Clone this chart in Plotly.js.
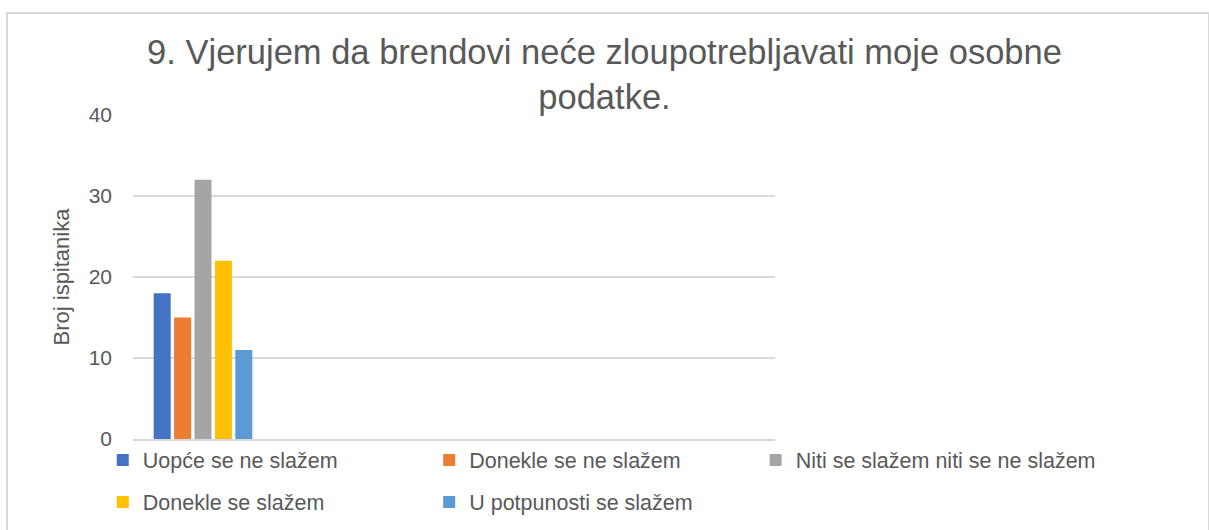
<!DOCTYPE html>
<html>
<head>
<meta charset="utf-8">
<script src="https://cdn.plot.ly/plotly-3.0.1.min.js"></script>
<style>
  html, body { margin: 0; padding: 0; background: #ffffff; overflow: hidden; }
  #frame { position: absolute; left: 6px; top: 12px; width: 1200px; height: 540px;
           border-left: 2px solid #d9d9d9; border-top: 2px solid #d9d9d9; border-right: 2px solid #d9d9d9; }
  #chart { position: absolute; left: 0; top: 0; width: 1209px; height: 530px; }
</style>
</head>
<body>
<div id="frame"></div>
<div id="chart"></div>
<script>
const titleText = "9. Vjerujem da brendovi neće zloupotrebljavati moje osobne<br>podatke.";
const yAxisTitle = "Broj ispitanika";
const question = ["P9"];
const responses = ["Uopće se ne slažem", "Donekle se ne slažem", "Niti se slažem niti se ne slažem", "Donekle se slažem", "U potpunosti se slažem"];
const counts = [18, 15, 32, 22, 11];
const colors = ["#4472C4", "#ED7D31", "#A5A5A5", "#FFC000", "#5B9BD5"];
const yTicks = [0, 10, 20, 30, 40];

const font = "Liberation Sans, Arial, sans-serif";
const legendIds = ["legend", "legend2", "legend3", "legend4", "legend5"];
// legend slot positions (container fractions): three per row, two rows
const legendX = [0.085, 0.355, 0.625, 0.085, 0.355];
const legendY = [0.132, 0.132, 0.132, 0.053, 0.053];

const traces = responses.map((r, i) => ({
  type: "bar",
  x: question,
  y: [counts[i]],
  name: r,
  marker: { color: colors[i] },
  legend: legendIds[i],
  hoverinfo: "y+name"
}));

const layout = {
  width: 1209, height: 530,
  paper_bgcolor: "rgba(0,0,0,0)",
  plot_bgcolor: "rgba(0,0,0,0)",
  margin: { l: 133, r: 434, t: 115, b: 91, pad: 0, autoexpand: false },
  title: {
    text: titleText,
    font: { family: font, size: 34.5, color: "#595959" },
    xref: "container", x: 0.5, xanchor: "center",
    yref: "container", y: 0.879, yanchor: "top",
    automargin: false
  },
  barmode: "group",
  bargap: 0.271,
  bargroupgap: 0.167,
  showlegend: true,
  xaxis: {
    type: "category",
    range: [-0.5, 4.086],
    showticklabels: false,
    ticks: "",
    showgrid: false,
    showline: true, linecolor: "#d9d9d9", linewidth: 2,
    zeroline: false,
    automargin: false,
    fixedrange: true
  },
  yaxis: {
    range: [0, 40],
    tickvals: yTicks,
    ticks: "",
    ticklen: 0,
    showgrid: true, gridcolor: "#d9d9d9", gridwidth: 2,
    zeroline: false,
    showline: false,
    tickfont: { family: font, size: 21, color: "#595959" },
    ticklabelstandoff: 20,
    title: { text: yAxisTitle, font: { family: font, size: 22, color: "#595959" }, standoff: 12 },
    automargin: false,
    fixedrange: true
  }
};

legendIds.forEach((id, i) => {
  layout[id] = {
    orientation: "h",
    xref: "container", yref: "container",
    x: legendX[i], y: legendY[i],
    xanchor: "left", yanchor: "middle",
    font: { family: font, size: 21.5, color: "#595959" },
    bgcolor: "rgba(0,0,0,0)",
    itemclick: false, itemdoubleclick: false
  };
});

Plotly.newPlot("chart", traces, layout, { displayModeBar: false, staticPlot: true });
</script>
</body>
</html>
